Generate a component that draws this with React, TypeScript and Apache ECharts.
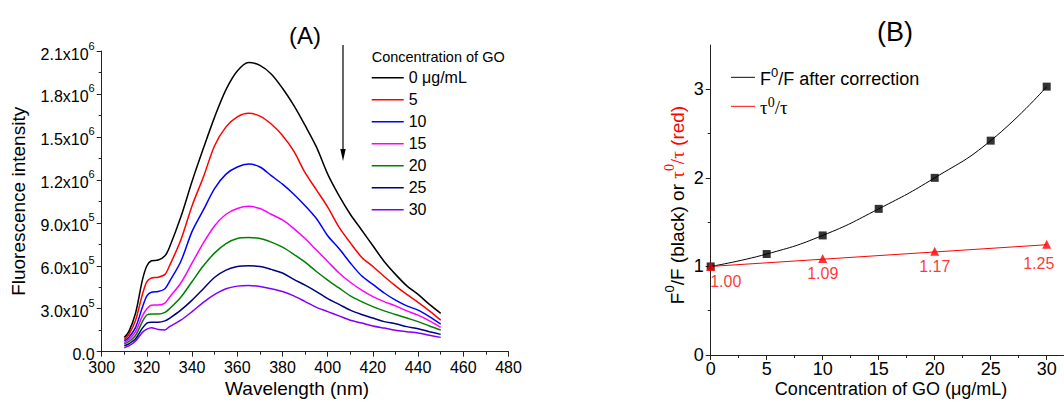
import React, { useEffect, useRef } from 'react';
import * as echarts from 'echarts';

// ---------- Panel A data (fluorescence spectra, intensity in units of 1e6) ----------
const wavelengths = [310, 312, 315, 318, 320, 322, 325, 328, 330, 335, 340, 345, 350, 355, 360, 365, 370, 375, 380, 385, 390, 395, 400, 405, 410, 415, 420, 425, 430, 435, 440, 445, 450];
const go0 = [0.10, 0.14, 0.27, 0.50, 0.60, 0.635, 0.64, 0.67, 0.73, 0.94, 1.19, 1.42, 1.64, 1.83, 1.96, 2.02, 2.00, 1.94, 1.84, 1.72, 1.58, 1.43, 1.24, 1.09, 0.96, 0.85, 0.74, 0.63, 0.54, 0.46, 0.40, 0.33, 0.268];
const go5 = [0.085, 0.12, 0.22, 0.40, 0.49, 0.515, 0.52, 0.54, 0.60, 0.78, 1.02, 1.22, 1.44, 1.57, 1.64, 1.665, 1.645, 1.59, 1.51, 1.40, 1.25, 1.13, 1.01, 0.87, 0.76, 0.66, 0.595, 0.525, 0.46, 0.40, 0.345, 0.285, 0.22];
const go10 = [0.075, 0.10, 0.17, 0.31, 0.39, 0.415, 0.42, 0.44, 0.49, 0.63, 0.84, 0.99, 1.14, 1.24, 1.29, 1.31, 1.29, 1.23, 1.17, 1.10, 1.02, 0.93, 0.81, 0.72, 0.62, 0.53, 0.47, 0.41, 0.36, 0.32, 0.29, 0.245, 0.193];
const go15 = [0.063, 0.085, 0.14, 0.25, 0.30, 0.325, 0.326, 0.34, 0.38, 0.48, 0.62, 0.76, 0.88, 0.96, 1.00, 1.015, 1.00, 0.96, 0.92, 0.86, 0.79, 0.71, 0.63, 0.55, 0.485, 0.43, 0.385, 0.35, 0.32, 0.285, 0.255, 0.215, 0.17];
const go20 = [0.054, 0.07, 0.115, 0.21, 0.256, 0.263, 0.263, 0.275, 0.30, 0.38, 0.49, 0.60, 0.69, 0.755, 0.79, 0.797, 0.79, 0.765, 0.73, 0.68, 0.625, 0.56, 0.50, 0.445, 0.39, 0.35, 0.315, 0.285, 0.26, 0.235, 0.21, 0.18, 0.152];
const go25 = [0.042, 0.055, 0.09, 0.165, 0.20, 0.205, 0.205, 0.215, 0.233, 0.29, 0.36, 0.44, 0.52, 0.57, 0.595, 0.60, 0.595, 0.575, 0.55, 0.505, 0.465, 0.42, 0.37, 0.33, 0.29, 0.26, 0.235, 0.21, 0.195, 0.175, 0.16, 0.14, 0.121];
const go30 = [0.028, 0.04, 0.075, 0.135, 0.158, 0.168, 0.155, 0.152, 0.175, 0.22, 0.28, 0.345, 0.40, 0.44, 0.458, 0.463, 0.455, 0.44, 0.42, 0.39, 0.35, 0.31, 0.28, 0.25, 0.22, 0.20, 0.18, 0.165, 0.15, 0.14, 0.13, 0.115, 0.10];
const spectraNames = ['0 μg/mL', '5', '10', '15', '20', '25', '30'];
const spectraColors = ['#000000', '#ff0000', '#0000ff', '#ff00ff', '#008000', '#000080', '#8000ff'];
const spectra = [go0, go5, go10, go15, go20, go25, go30];

// ---------- Panel B data ----------
const goConc = [0, 5, 10, 15, 20, 25, 30];
const f0f = [1.00, 1.14, 1.35, 1.65, 2.00, 2.42, 3.03];
const tauConc = [0, 10, 20, 30];
const tauRatio = [1.00, 1.09, 1.17, 1.25];
const tauFitConc = [0, 30];
const tauFit = [1.00, 1.245];
const bXTicks = [0, 5, 10, 15, 20, 25, 30];
const bXMinor = [2.5, 7.5, 12.5, 17.5, 22.5, 27.5];
const bYTicks = [0, 1, 2, 3];
const bYMinor = [0.5, 1.5, 2.5];

const FONT = 'Arial, "Liberation Sans", Helvetica, sans-serif';
const SERIF = '"Times New Roman", "Liberation Serif", serif';
const AXIS = '#222';

export default function App() {
  const ref = useRef<HTMLDivElement>(null);

  useEffect(() => {
    if (!ref.current) return;
    const chart = echarts.init(ref.current, null, { renderer: 'svg' });

    const yFmtA = (v: number) => {
      if (Math.abs(v) < 1e-9) return '{b|0.0}';
      const r = Math.round(v * 10) / 10;
      if (r >= 1.2 - 1e-9) return `{b|${r.toFixed(1)}x10}{s|6}`;
      return `{b|${(r * 10).toFixed(1)}x10}{s|5}`;
    };

    const spectraSeries = spectra.map((arr, i) => ({
      type: 'line',
      name: spectraNames[i],
      xAxisIndex: 0,
      yAxisIndex: 0,
      data: wavelengths.map((w, j) => [w, arr[j]]),
      symbol: 'none',
      smooth: 0.3,
      lineStyle: { color: spectraColors[i], width: 1.5 },
      itemStyle: { color: spectraColors[i] },
      z: 10 - i,
    }));

    const option: any = {
      animation: false,
      backgroundColor: '#ffffff',
      textStyle: { fontFamily: FONT },
      grid: [
        { left: 101.7, top: 51, width: 406.8, height: 300.7, outerBoundsMode: 'none', containLabel: false },
        { left: 710.7, top: 45, width: 352.8, height: 310, outerBoundsMode: 'none', containLabel: false },
      ],
      xAxis: [
        {
          type: 'value', gridIndex: 0, min: 300, max: 480, interval: 20,
          name: 'Wavelength (nm)', nameLocation: 'middle', nameGap: 27, nameMoveOverlap: false,
          nameTextStyle: { fontSize: 19, color: '#000', fontFamily: FONT, padding: [0, 16, 0, 0] },
          axisLine: { lineStyle: { color: AXIS, width: 1 } },
          axisTick: { show: true, inside: false, length: 5, lineStyle: { color: AXIS } },
          minorTick: { show: true, splitNumber: 2, length: 3, lineStyle: { color: AXIS } },
          axisLabel: { fontSize: 16, color: '#000', margin: 8, fontFamily: FONT },
          splitLine: { show: false },
        },
        {
          type: 'value', gridIndex: 1, min: 0, max: 31.5,
          name: 'Concentration of GO (μg/mL)', nameLocation: 'middle', nameGap: 25, nameMoveOverlap: false,
          nameTextStyle: { fontSize: 18, color: '#000', fontFamily: FONT, padding: [0, 0, 0, 8] },
          axisLine: { lineStyle: { color: AXIS, width: 1 } },
          axisTick: { show: true, inside: false, length: 5, customValues: bXTicks, lineStyle: { color: AXIS } },
          axisLabel: { fontSize: 18, color: '#000', margin: 5, customValues: bXTicks, fontFamily: FONT },
          splitLine: { show: false },
        },
        {
          type: 'value', gridIndex: 1, min: 0, max: 31.5, position: 'bottom',
          axisLine: { show: false },
          axisTick: { show: true, inside: false, length: 3, customValues: bXMinor, lineStyle: { color: AXIS } },
          axisLabel: { show: false },
          splitLine: { show: false },
        },
      ],
      yAxis: [
        {
          type: 'value', gridIndex: 0, min: 0, max: 2.1, interval: 0.3,
          name: 'Fluorescence intensity', nameLocation: 'middle', nameGap: 74, nameRotate: 90, nameMoveOverlap: false,
          nameTextStyle: { fontSize: 19, color: '#000', fontFamily: FONT },
          axisLine: { show: true, lineStyle: { color: AXIS, width: 1 } },
          axisTick: { show: true, inside: false, length: 5, lineStyle: { color: AXIS } },
          minorTick: { show: true, splitNumber: 2, length: 3, lineStyle: { color: AXIS } },
          axisLabel: {
            margin: 7,
            formatter: yFmtA,
            rich: {
              b: { fontSize: 16, color: '#000', fontFamily: FONT, lineHeight: 22, verticalAlign: 'bottom' },
              s: { fontSize: 11, color: '#000', fontFamily: FONT, lineHeight: 12, verticalAlign: 'top' },
            },
          },
          splitLine: { show: false },
        },
        {
          type: 'value', gridIndex: 1, min: 0, max: 3.5, position: 'left',
          name: '{k|F}{ks|0}{k|/F (black) or }{rt|τ}{rs|0}{rt|/τ}{r| (red)}',
          nameLocation: 'middle', nameGap: 24, nameRotate: 90, nameMoveOverlap: false,
          nameTextStyle: {
            fontSize: 19, color: '#000', fontFamily: FONT, padding: [0, 10, 0, 0],
            rich: {
              k: { fontSize: 19, color: '#000', fontFamily: FONT, lineHeight: 24, verticalAlign: 'bottom' },
              ks: { fontSize: 13, color: '#000', fontFamily: FONT, lineHeight: 13, verticalAlign: 'top' },
              rt: { fontSize: 19, color: '#ff0000', fontFamily: SERIF, lineHeight: 24, verticalAlign: 'bottom' },
              rs: { fontSize: 14, color: '#ff0000', fontFamily: SERIF, lineHeight: 13, verticalAlign: 'top' },
              r: { fontSize: 19, color: '#ff0000', fontFamily: FONT, lineHeight: 24, verticalAlign: 'bottom' },
            },
          },
          axisLine: { show: true, lineStyle: { color: AXIS, width: 1 } },
          axisTick: { show: true, inside: false, length: 5, customValues: bYTicks, lineStyle: { color: AXIS } },
          axisLabel: { fontSize: 18, color: '#000', margin: 7, customValues: bYTicks, fontFamily: FONT },
          splitLine: { show: false },
        },
        {
          type: 'value', gridIndex: 1, min: 0, max: 3.5, position: 'left',
          axisLine: { show: false },
          axisTick: { show: true, inside: false, length: 3, customValues: bYMinor, lineStyle: { color: AXIS } },
          axisLabel: { show: false },
          splitLine: { show: false },
        },
      ],
      legend: [
        {
          data: spectraNames,
          orient: 'vertical',
          left: 371.7,
          top: 69.7,
          padding: 0,
          itemWidth: 32,
          itemHeight: 14,
          itemGap: 6,
          icon: 'path://M0,0H100V5H0Z',
          textStyle: { fontSize: 16, color: '#000', fontFamily: FONT },
          selectedMode: false,
        },
        {
          data: ['F0/F after correction', 'τ0/τ'],
          orient: 'vertical',
          left: 731,
          top: 66.3,
          padding: 0,
          itemWidth: 24,
          itemHeight: 14,
          itemGap: 7,
          icon: 'path://M0,0H100V4H0Z',
          selectedMode: false,
          formatter: (name: string) =>
            name === 'τ0/τ' ? '{t|τ}{ts|0}{t|/τ}' : '{n|F}{ns|0}{n|/F after correction}',
          textStyle: {
            fontSize: 18, color: '#000', fontFamily: FONT,
            rich: {
              n: { fontSize: 18, color: '#000', fontFamily: FONT, lineHeight: 22, verticalAlign: 'bottom' },
              ns: { fontSize: 13, color: '#000', fontFamily: FONT, lineHeight: 12, verticalAlign: 'top' },
              t: { fontSize: 19, color: '#000', fontFamily: SERIF, lineHeight: 22, verticalAlign: 'bottom' },
              ts: { fontSize: 14, color: '#000', fontFamily: SERIF, lineHeight: 12, verticalAlign: 'top' },
            },
          },
        },
      ],
      graphic: [
        {
          type: 'text', x: 305, y: 35,
          style: { text: '(A)', font: `24px ${FONT}`, fill: '#000', textAlign: 'center', textVerticalAlign: 'middle' },
        },
        {
          type: 'text', x: 371.7, y: 57,
          style: { text: 'Concentration of GO', font: `14.5px ${FONT}`, fill: '#000', textAlign: 'left', textVerticalAlign: 'middle' },
        },
        {
          type: 'text', x: 895, y: 32,
          style: { text: '(B)', font: `27px ${FONT}`, fill: '#000', textAlign: 'center', textVerticalAlign: 'middle' },
        },
        {
          type: 'group',
          children: [
            { type: 'line', shape: { x1: 343, y1: 45, x2: 343, y2: 152 }, style: { stroke: '#000', lineWidth: 1.2 } },
            { type: 'polygon', shape: { points: [[340.3, 149], [345.7, 149], [343, 161]] }, style: { fill: '#000' } },
          ],
        },
      ],
      series: [
        ...spectraSeries,
        {
          type: 'line',
          name: 'F0/F after correction',
          xAxisIndex: 1,
          yAxisIndex: 1,
          data: goConc.map((c, i) => [c, f0f[i]]),
          smooth: true,
          symbol: 'none',
          lineStyle: { color: '#000', width: 1 },
          itemStyle: { color: '#000' },
          z: 3,
        },
        {
          type: 'scatter',
          name: 'F0/F points',
          xAxisIndex: 1,
          yAxisIndex: 1,
          data: goConc.map((c, i) => [c, f0f[i]]),
          symbol: 'rect',
          symbolSize: 8,
          itemStyle: { color: '#000' },
          z: 5,
        },
        {
          type: 'line',
          name: 'τ0/τ',
          xAxisIndex: 1,
          yAxisIndex: 1,
          data: tauFitConc.map((c, i) => [c, tauFit[i]]),
          symbol: 'none',
          lineStyle: { color: '#ff0000', width: 1 },
          itemStyle: { color: '#ff0000' },
          z: 3,
        },
        {
          type: 'scatter',
          name: 'τ0/τ points',
          xAxisIndex: 1,
          yAxisIndex: 1,
          symbol: 'triangle',
          symbolSize: 9,
          itemStyle: { color: '#ff0000' },
          z: 5,
          label: {
            show: true,
            position: 'bottom',
            distance: 3,
            color: '#ff0000',
            fontSize: 16,
            fontFamily: FONT,
            formatter: (p: any) => Number(p.value[1]).toFixed(2),
          },
          data: tauConc.map((c, i) => ({
            value: [c, tauRatio[i]],
            label: {
              offset: i === 0 ? [15, 0] : i === tauConc.length - 1 ? [-8, 4] : [0, 0],
            },
          })),
        },
      ],
    };

    chart.setOption(option);
    return () => {
      chart.dispose();
    };
  }, []);

  return (
    <div
      ref={ref}
      style={{ position: 'fixed', left: 0, top: 0, width: 1064, height: 402, background: '#fff' }}
    />
  );
}
